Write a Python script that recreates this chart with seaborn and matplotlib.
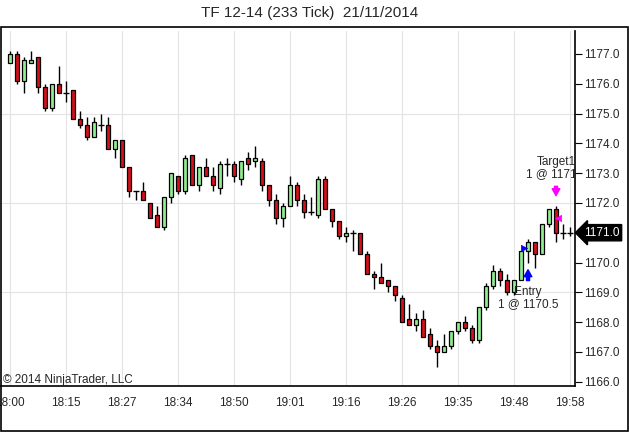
import numpy as np
import matplotlib
matplotlib.use("Agg")
import matplotlib.pyplot as plt
import matplotlib.transforms as mtransforms
from matplotlib.patches import Rectangle
import seaborn as sns
import pandas as pd

# bar data (233 tick bars)
opens = [1176.7, 1177.0, 1176.1, 1176.7, 1176.9, 1175.9, 1175.2, 1176.0, 1175.7, 1175.8,
         1174.8, 1174.6, 1174.2, 1174.6, 1174.6, 1173.8, 1174.1, 1173.2, 1172.4, 1172.4,
         1172.0, 1171.6, 1171.2, 1172.2, 1172.9, 1172.4, 1173.6, 1172.6, 1173.2, 1172.9,
         1172.5, 1173.3, 1173.3, 1172.8, 1173.5, 1173.4, 1173.4, 1172.6, 1172.1, 1171.5,
         1171.9, 1172.6, 1172.1, 1171.7, 1171.6, 1172.8, 1171.8, 1171.4, 1170.9, 1171.0,
         1171.0, 1170.3, 1169.6, 1169.5, 1169.4, 1169.2, 1168.8, 1168.1, 1167.9, 1168.1,
         1167.6, 1167.2, 1167.0, 1167.2, 1167.7, 1168.0, 1167.8, 1167.4, 1168.5, 1169.2,
         1169.7, 1169.4, 1169.0, 1169.4, 1170.4, 1170.7, 1170.3, 1171.3, 1171.8, 1171.0,
         1171.0]
highs = [1177.1, 1177.1, 1176.9, 1177.1, 1176.9, 1176.0, 1176.0, 1176.6, 1176.1, 1175.8,
         1175.1, 1174.9, 1174.9, 1175.0, 1174.9, 1174.1, 1174.1, 1173.2, 1172.4, 1172.7,
         1172.0, 1171.9, 1172.2, 1173.0, 1172.9, 1173.6, 1173.6, 1173.2, 1173.5, 1173.2,
         1173.4, 1173.5, 1173.4, 1173.4, 1173.7, 1173.9, 1173.5, 1172.6, 1172.3, 1172.0,
         1172.9, 1172.7, 1172.3, 1172.2, 1172.9, 1172.9, 1171.8, 1171.4, 1171.2, 1171.1,
         1171.0, 1170.4, 1169.7, 1170.0, 1169.4, 1169.2, 1168.9, 1168.6, 1168.3, 1168.4,
         1167.8, 1167.4, 1167.6, 1167.7, 1168.0, 1168.2, 1167.9, 1168.5, 1169.3, 1169.9,
         1169.8, 1169.6, 1169.4, 1170.4, 1170.8, 1170.7, 1171.3, 1171.8, 1171.9, 1171.3,
         1171.2]
lows = [1176.7, 1176.0, 1175.7, 1176.7, 1175.7, 1175.1, 1175.1, 1175.7, 1175.4, 1174.8,
        1174.5, 1174.1, 1174.2, 1174.4, 1173.8, 1173.5, 1173.2, 1172.2, 1172.1, 1172.1,
        1171.5, 1171.2, 1171.1, 1172.0, 1172.3, 1172.3, 1172.6, 1172.4, 1172.9, 1172.4,
        1172.3, 1172.9, 1172.7, 1172.6, 1173.1, 1173.2, 1172.4, 1171.9, 1171.3, 1171.2,
        1171.9, 1171.9, 1171.5, 1171.6, 1171.5, 1171.8, 1171.2, 1170.8, 1170.7, 1170.4,
        1170.3, 1169.6, 1169.1, 1169.3, 1169.0, 1168.7, 1168.0, 1167.9, 1167.7, 1167.5,
        1167.1, 1166.5, 1167.0, 1167.1, 1167.6, 1167.7, 1167.3, 1167.3, 1168.4, 1169.1,
        1169.2, 1168.9, 1168.9, 1169.4, 1170.0, 1169.8, 1170.3, 1171.2, 1170.7, 1170.8,
        1170.9]
closes = [1177.0, 1176.1, 1176.8, 1176.8, 1175.9, 1175.2, 1176.0, 1175.7, 1175.7, 1174.8,
          1174.6, 1174.2, 1174.7, 1174.6, 1173.8, 1174.1, 1173.2, 1172.4, 1172.4, 1172.1,
          1171.5, 1171.2, 1172.2, 1173.0, 1172.4, 1173.5, 1172.6, 1173.2, 1172.9, 1172.6,
          1173.3, 1173.3, 1172.9, 1173.4, 1173.3, 1173.5, 1172.6, 1172.1, 1171.5, 1171.9,
          1172.6, 1172.1, 1171.7, 1171.7, 1172.8, 1171.8, 1171.4, 1170.9, 1171.0, 1171.0,
          1170.3, 1169.6, 1169.5, 1169.3, 1169.2, 1168.9, 1168.0, 1167.9, 1168.1, 1167.5,
          1167.2, 1167.0, 1167.2, 1167.7, 1168.0, 1167.8, 1167.4, 1168.5, 1169.2, 1169.7,
          1169.4, 1169.0, 1169.4, 1170.4, 1170.7, 1170.3, 1171.3, 1171.8, 1171.0, 1171.0,
          1171.0]

time_labels = ["18:00", "18:15", "18:27", "18:34", "18:50", "19:01",
               "19:16", "19:26", "19:35", "19:48", "19:58"]
price_ticks = [1166.0, 1167.0, 1168.0, 1169.0, 1170.0, 1171.0,
               1172.0, 1173.0, 1174.0, 1175.0, 1176.0, 1177.0]
grid_prices = [1169.0, 1172.0, 1175.0]

entry_bar, entry_price = 74, 1170.5
target_bar, target_price = 78, 1171.5
last_price = closes[-1]

df = pd.DataFrame({"open": opens, "high": highs, "low": lows, "close": closes})
df["bar"] = np.arange(len(df))

sns.set_style("white")
plt.rcParams["font.family"] = ["Liberation Sans", "DejaVu Sans"]

fig = plt.figure(figsize=(6.29, 4.32), dpi=100)
ax = fig.add_axes([0.0, 1 - 386 / 432, 575 / 629, (386 - 31) / 432])

up_col = "#90ee90"
down_col = "#d4111b"

# grid
for i in range(len(time_labels)):
    ax.axvline(i * 8, color="#e3e3e3", lw=0.8, zorder=0)
for p in grid_prices:
    ax.axhline(p, color="#e3e3e3", lw=0.8, zorder=0)

# wicks
ax.vlines(df["bar"], df["low"], df["high"], color="black", lw=1, zorder=2)

# bodies
flat = df[df["open"] == df["close"]]
body = df[df["open"] != df["close"]]
colors = [up_col if c > o else down_col for o, c in zip(body["open"], body["close"])]
ax.bar(body["bar"], body["close"] - body["open"], bottom=body["open"], width=0.62,
       color=colors, edgecolor="black", linewidth=0.9, zorder=3)
ax.hlines(flat["close"], flat["bar"] - 0.38, flat["bar"] + 0.38, color="black", lw=1, zorder=3)

# execution markers
sns.scatterplot(x=[entry_bar - 0.6], y=[entry_price], marker=">", s=22, color="blue",
                edgecolor="blue", ax=ax, zorder=5, legend=False)
sns.scatterplot(x=[target_bar + 0.35], y=[target_price], marker="<", s=22, color="magenta",
                edgecolor="magenta", ax=ax, zorder=5, legend=False)

ax.annotate("", xy=(entry_bar, 1169.85), xytext=(entry_bar, 1169.3),
            arrowprops=dict(arrowstyle="simple,head_length=0.5,head_width=0.55,tail_width=0.22",
                            fc="blue", ec="blue"), zorder=6)
ax.annotate("", xy=(target_bar, 1172.15), xytext=(target_bar, 1172.65),
            arrowprops=dict(arrowstyle="simple,head_length=0.5,head_width=0.55,tail_width=0.22",
                            fc="magenta", ec="magenta"), zorder=6)

ax.text(entry_bar, 1169.0, "Entry", ha="center", va="center", fontsize=8.5, clip_on=True)
ax.text(entry_bar, 1168.62, "1 @ 1170.5", ha="center", va="center", fontsize=8.5, clip_on=True)
ax.text(target_bar, 1173.38, "Target1", ha="center", va="center", fontsize=8.5, clip_on=True)
ax.text(target_bar, 1172.98, "1 @ 1171.5", ha="center", va="center", fontsize=8.5, clip_on=True)

ax.text(0.005, 0.017, "\u00a9 2014 NinjaTrader, LLC", transform=ax.transAxes,
        ha="left", va="center", fontsize=8.5)

# axes
ax.set_xlim(-10 / 7, 565 / 7)
ax.set_ylim(1165.855, 1177.77)
ax.set_xticks([i * 8 for i in range(len(time_labels))])
ax.set_xticklabels(time_labels)
ax.yaxis.tick_right()
ax.set_yticks(price_ticks)
# the last-price box sits on top of its own tick label
ax.set_yticklabels(["" if p == last_price else "%.1f" % p for p in price_ticks])
ax.tick_params(axis="both", direction="out", length=5, width=0.8, color="black",
               labelsize=8.5, pad=1.5)
ax.tick_params(axis="x", pad=3)
for side in ["left", "top"]:
    ax.spines[side].set_visible(False)
for side in ["right", "bottom"]:
    ax.spines[side].set_visible(True)
    ax.spines[side].set_color("black")
    ax.spines[side].set_linewidth(1.2)

# last price box
trans = mtransforms.blended_transform_factory(ax.transAxes, ax.transData)
ax.annotate("%.1f" % last_price, xy=(1.0, last_price), xycoords=trans,
            xytext=(6.5, 0), textcoords="offset points", ha="left", va="center",
            color="white", fontsize=8.5, zorder=10, annotation_clip=False,
            bbox=dict(boxstyle="larrow,pad=0.18", fc="black", ec="black"))

# title and outer frame
fig.text(0.493, 1 - 13 / 432, "TF 12-14 (233 Tick)  21/11/2014", ha="center", va="center",
         fontsize=11)
fig.patches.append(Rectangle((0.0008, 0.002), 627.5 / 629, 1 - 27 / 432 - 0.002,
                             transform=fig.transFigure, fill=False, ec="black", lw=1.2))

fig.savefig("out.png", dpi=100)
plt.close(fig)
